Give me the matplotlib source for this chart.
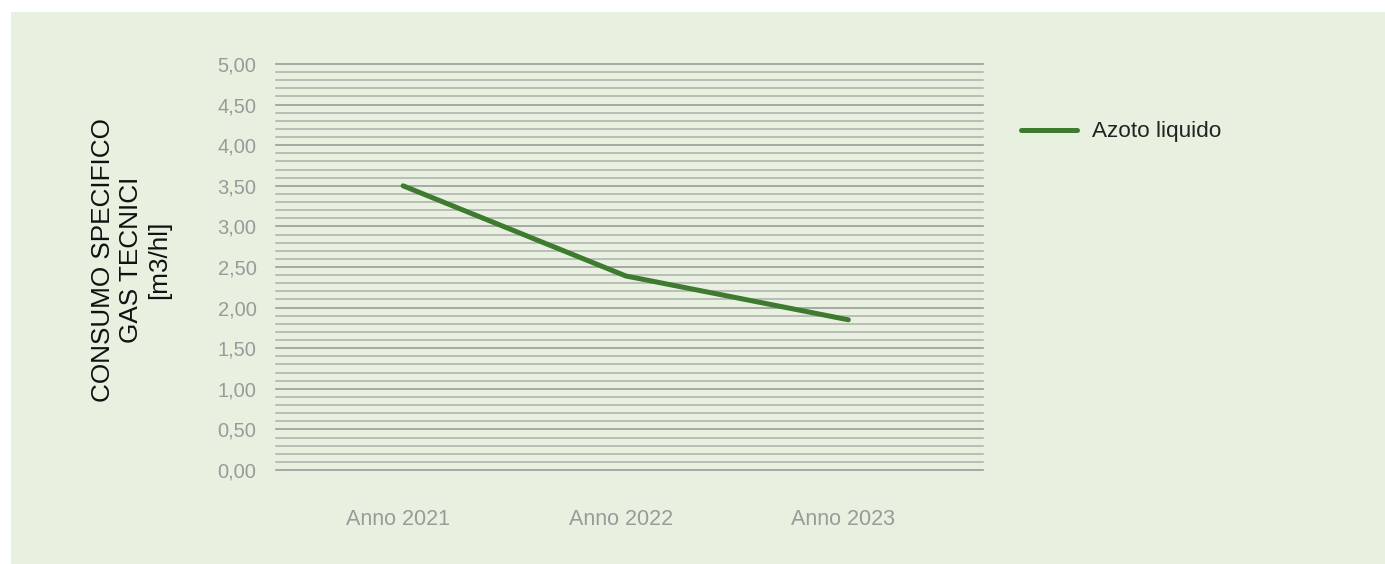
import matplotlib
matplotlib.use("Agg")
import matplotlib.pyplot as plt
import matplotlib.transforms as mtransforms
import numpy as np
from matplotlib.ticker import MultipleLocator, FuncFormatter

categories = ["Anno 2021", "Anno 2022", "Anno 2023"]
azoto_liquido = [3.50, 2.39, 1.85]
series_name = "Azoto liquido"
y_title = "CONSUMO SPECIFICO\nGAS TECNICI\n[m3/hl]"
y_max = 5.0
y_major = 0.5
y_minor = 0.1

W, H = 1385, 564
fig = plt.figure(figsize=(W / 100, H / 100), dpi=100)
fig.patch.set_facecolor("white")
bg = "#E8F1E0"
fig.patches.append(plt.Rectangle((11 / W, 0), 1 - 11 / W, 1 - 12 / H,
                                 transform=fig.transFigure, facecolor=bg,
                                 edgecolor="none", zorder=-10))

plt.rcParams['font.family'] = ['Liberation Sans', 'DejaVu Sans']

left, right = 276 / W, 983 / W
top, bottom = 1 - 64 / H, 1 - 470 / H
ax = fig.add_axes([left, bottom, right - left, top - bottom])
ax.set_facecolor("none")

x = np.arange(len(categories))
ax.plot(x, azoto_liquido, color="#3E7A2F", lw=3.6, solid_capstyle="round",
        solid_joinstyle="round", label=series_name, zorder=3)

ax.set_xlim(-0.571, 2.605)
ax.set_ylim(0, y_max)
ax.yaxis.set_major_locator(MultipleLocator(y_major))
ax.yaxis.set_major_formatter(FuncFormatter(lambda v, p: f"{v:.2f}".replace(".", ",")))
ax.set_xticks(x)
ax.set_xticklabels(categories)

levels = np.round(np.arange(0, y_max + y_minor / 2, y_minor), 2)
for lv in levels:
    is_major = abs(lv / y_major - round(lv / y_major)) < 1e-6
    ax.axhline(lv, color="#9C9C9C" if is_major else "#AEAEAE",
               lw=1.2 if is_major else 1.1, clip_on=False, zorder=1)

for s in ax.spines.values():
    s.set_visible(False)
ax.tick_params(axis="y", which="both", length=0, pad=14, labelsize=14.5, labelcolor="#9A9A9A")
ax.tick_params(axis="x", length=0, pad=28, labelsize=15.5, labelcolor="#9A9A9A")
offset = mtransforms.ScaledTranslation(-5 / 100, 0, fig.dpi_scale_trans)
for lbl in ax.get_xticklabels():
    lbl.set_transform(lbl.get_transform() + offset)

fig.text(131 / W, 1 - 260 / H, y_title, rotation=90, ha="center", va="center",
         fontsize=18.8, color="#111111", linespacing=1.2, multialignment="center")

fig.legend(loc="center left", bbox_to_anchor=(1021 / W, 1 - 132 / H),
           frameon=False, borderpad=0, borderaxespad=0, handlelength=2.5,
           handletextpad=0.65, fontsize=16.2, labelcolor="#222222")

fig.savefig("out.png", dpi=100, facecolor="white")
